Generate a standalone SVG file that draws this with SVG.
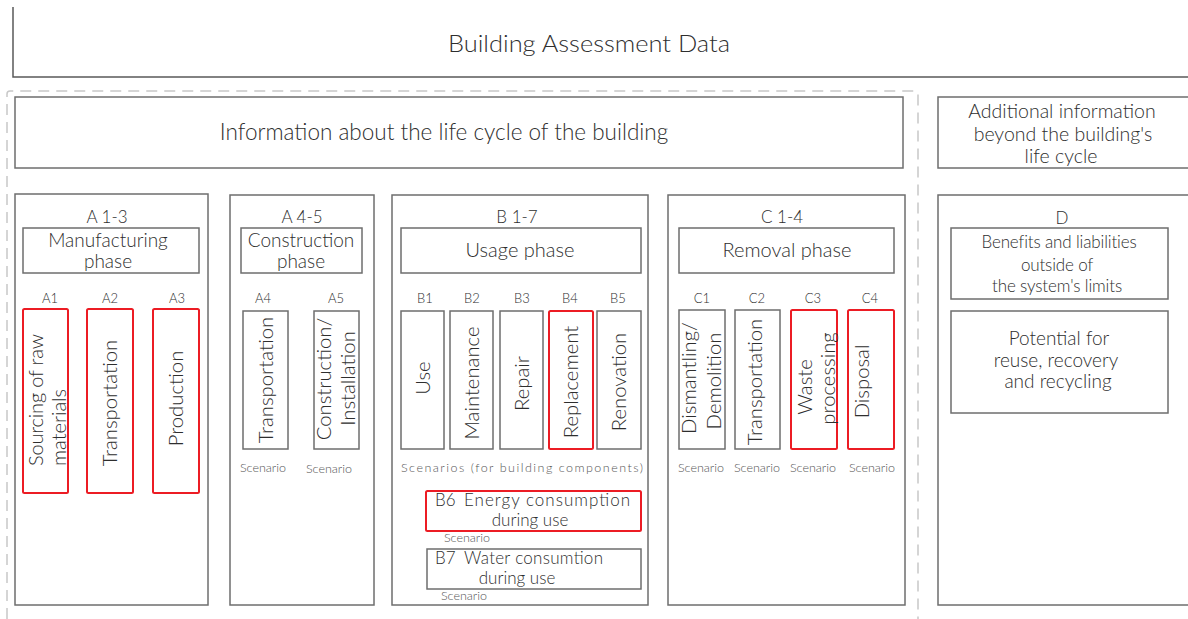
<svg xmlns="http://www.w3.org/2000/svg" width="1188" height="619" viewBox="0 0 1188 619">
  <style>
    text { font-family: "Lato", "Liberation Sans", sans-serif; font-weight: 300; fill: #2e2e2e; }
    .box { fill: #fff; stroke: #6e6e6e; stroke-width: 1.5; }
    .red { fill: #fff; stroke: #ec1c24; stroke-width: 2; }
    .frame { fill: none; stroke: #5a5a5a; stroke-width: 1.5; }
    .dash { fill: none; stroke: #c8c8c8; stroke-width: 1.5; stroke-dasharray: 11 7; }
    .big { font-size: 22.5px; }
    .ph { font-size: 19px; text-anchor: middle; }
    .code { font-size: 17px; text-anchor: middle; }
    .lbl { font-size: 13px; text-anchor: middle; }
    .vt { font-size: 20.3px; text-anchor: middle; }
    .vs { font-size: 20px; text-anchor: start; }
    .sc { font-size: 12.5px; fill: #555; text-anchor: middle; }
    .info { font-size: 19.5px; text-anchor: middle; }
    .pot { font-size: 19px; text-anchor: middle; }
    .st { font-size: 17px; text-anchor: start; }
    .dtxt { font-size: 17px; text-anchor: middle; letter-spacing: -0.15px; }
  </style>

  <!-- outer frame of the assessment data -->
  <g id="assessment">
    <path class="frame" d="M13,7 V77 H1188"/>
    <text class="big" x="589" y="52" text-anchor="middle" style="font-size:24px" textLength="282" lengthAdjust="spacingAndGlyphs">Building Assessment Data</text>
  </g>

  <!-- dashed boundary of the life cycle -->
  <path class="dash" d="M7,619 V94 Q7,91 10,91 H915 Q918,91 918,94 V619"/>

  <g id="lifecycle">
    <rect class="box" x="15" y="97" width="888" height="71"/>
    <text class="big" x="444" y="140" text-anchor="middle">Information about the life cycle of the building</text>
  </g>

  <g id="additional">
    <rect class="box" x="938" y="97" width="260" height="71"/>
    <text class="info" x="1062" y="118">Additional information</text>
    <text class="info" x="1063" y="140.5">beyond the building's</text>
    <text class="info" x="1061" y="163">life cycle</text>
  </g>

  <!-- A 1-3 -->
  <g id="A1-3">
    <rect class="box" x="15" y="194" width="193" height="411"/>
    <text class="code" x="107" y="223">A 1-3</text>
    <rect class="box" x="23" y="228" width="176" height="45"/>
    <text class="ph" x="108" y="247">Manufacturing</text>
    <text class="ph" x="108" y="268">phase</text>
  </g>
  <g id="A1">
    <text class="lbl" x="50" y="303">A1</text>
    <rect class="red" x="23" y="309" width="45" height="184" rx="1.5"/>
    <text class="vs" transform="translate(42.5,466) rotate(-90)" textLength="132" lengthAdjust="spacing">Sourcing of raw</text>
    <text class="vs" transform="translate(66,466) rotate(-90)" textLength="77" lengthAdjust="spacing">materials</text>
  </g>
  <g id="A2">
    <text class="lbl" x="110" y="303">A2</text>
    <rect class="red" x="87" y="309" width="46" height="184" rx="1.5"/>
    <text class="vt" transform="translate(117,403) rotate(-90)">Transportation</text>
  </g>
  <g id="A3">
    <text class="lbl" x="177" y="303">A3</text>
    <rect class="red" x="153" y="309" width="46" height="184" rx="1.5"/>
    <text class="vt" transform="translate(183,398.5) rotate(-90)">Production</text>
  </g>

  <!-- A 4-5 -->
  <g id="A4-5">
    <rect class="box" x="230" y="195" width="144" height="410"/>
    <text class="code" x="302" y="223">A 4-5</text>
    <rect class="box" x="241" y="228" width="121" height="45"/>
    <text class="ph" x="301" y="247">Construction</text>
    <text class="ph" x="301" y="268">phase</text>
  </g>
  <g id="A4">
    <text class="lbl" x="263" y="303">A4</text>
    <rect class="box" x="243" y="311" width="45" height="138"/>
    <text class="vt" transform="translate(272.5,380) rotate(-90)">Transportation</text>
    <text class="sc" x="263" y="472">Scenario</text>
  </g>
  <g id="A5">
    <text class="lbl" x="336" y="303">A5</text>
    <rect class="box" x="314" y="311" width="45" height="138"/>
    <text class="vt" transform="translate(331,379) rotate(-90)">Construction/</text>
    <text class="vt" transform="translate(355,378.5) rotate(-90)">Installation</text>
    <text class="sc" x="329" y="473">Scenario</text>
  </g>

  <!-- B 1-7 -->
  <g id="B1-7">
    <rect class="box" x="392" y="195" width="256" height="410"/>
    <text class="code" x="517" y="223">B 1-7</text>
    <rect class="box" x="401" y="228" width="240" height="45"/>
    <text class="ph" x="520" y="257" style="font-size:20px">Usage phase</text>
    <text class="sc" x="522" y="472" textLength="242" lengthAdjust="spacing">Scenarios (for building components)</text>
  </g>
  <g id="B1">
    <text class="lbl" x="425" y="303">B1</text>
    <rect class="box" x="401" y="311" width="43" height="138"/>
    <text class="vt" transform="translate(430,378) rotate(-90)">Use</text>
  </g>
  <g id="B2">
    <text class="lbl" x="472" y="303">B2</text>
    <rect class="box" x="450" y="311" width="43" height="138"/>
    <text class="vt" transform="translate(478.5,383) rotate(-90)">Maintenance</text>
  </g>
  <g id="B3">
    <text class="lbl" x="522" y="303">B3</text>
    <rect class="box" x="500" y="311" width="43" height="138"/>
    <text class="vt" transform="translate(528.5,383.5) rotate(-90)">Repair</text>
  </g>
  <g id="B4">
    <text class="lbl" x="570" y="303">B4</text>
    <rect class="red" x="549" y="311" width="44" height="138" rx="1.5"/>
    <text class="vt" transform="translate(578,382) rotate(-90)">Replacement</text>
  </g>
  <g id="B5">
    <text class="lbl" x="618" y="303">B5</text>
    <rect class="box" x="597" y="311" width="44" height="138"/>
    <text class="vt" transform="translate(626,382) rotate(-90)">Renovation</text>
  </g>
  <g id="B6">
    <rect class="red" x="426" y="491" width="215" height="40" rx="1.5"/>
    <text class="st" x="435" y="506">B6</text>
    <text class="st" x="464" y="506" textLength="166" lengthAdjust="spacing">Energy consumption</text>
    <text class="code" x="530" y="526">during use</text>
    <text class="sc" x="467" y="542">Scenario</text>
  </g>
  <g id="B7">
    <rect class="box" x="427" y="549" width="214" height="40"/>
    <text class="st" x="435" y="564">B7</text>
    <text class="st" x="464" y="564" textLength="139" lengthAdjust="spacing">Water consumtion</text>
    <text class="code" x="517" y="584">during use</text>
    <text class="sc" x="464" y="600">Scenario</text>
  </g>

  <!-- C 1-4 -->
  <g id="C1-4">
    <rect class="box" x="668" y="195" width="237" height="410"/>
    <text class="code" x="782" y="223">C 1-4</text>
    <rect class="box" x="679" y="228" width="215" height="45"/>
    <text class="ph" x="787" y="257" style="font-size:20px">Removal phase</text>
  </g>
  <g id="C1">
    <text class="lbl" x="702" y="303">C1</text>
    <rect class="box" x="679" y="310" width="46" height="139"/>
    <text class="vt" transform="translate(696,378) rotate(-90)">Dismantling/</text>
    <text class="vt" transform="translate(720.5,381) rotate(-90)">Demolition</text>
    <text class="sc" x="701" y="472">Scenario</text>
  </g>
  <g id="C2">
    <text class="lbl" x="757" y="303">C2</text>
    <rect class="box" x="735" y="310" width="45" height="139"/>
    <text class="vt" transform="translate(762,382) rotate(-90)">Transportation</text>
    <text class="sc" x="757" y="472">Scenario</text>
  </g>
  <g id="C3">
    <text class="lbl" x="813" y="303">C3</text>
    <rect class="red" x="791" y="310" width="46" height="139" rx="1.5"/>
    <text class="vt" transform="translate(812,387) rotate(-90)">Waste</text>
    <text class="vt" transform="translate(835,378.5) rotate(-90)">processing</text>
    <text class="sc" x="813" y="472">Scenario</text>
  </g>
  <g id="C4">
    <text class="lbl" x="870" y="303">C4</text>
    <rect class="red" x="848" y="310" width="46" height="139" rx="1.5"/>
    <text class="vt" transform="translate(869,381.5) rotate(-90)">Disposal</text>
    <text class="sc" x="872" y="472">Scenario</text>
  </g>

  <!-- D -->
  <g id="D">
    <rect class="box" x="938" y="195" width="260" height="410"/>
    <text class="code" x="1062" y="224">D</text>
  </g>
  <g id="D-benefits">
    <rect class="box" x="951" y="228" width="217" height="71"/>
    <text class="dtxt" x="1059" y="248">Benefits and liabilities</text>
    <text class="dtxt" x="1057" y="271">outside of</text>
    <text class="dtxt" x="1057" y="292">the system's limits</text>
  </g>
  <g id="D-potential">
    <rect class="box" x="951" y="311" width="217" height="102"/>
    <text class="pot" x="1059" y="345">Potential for</text>
    <text class="pot" x="1056" y="367">reuse, recovery</text>
    <text class="pot" x="1058" y="388">and recycling</text>
  </g>
</svg>
